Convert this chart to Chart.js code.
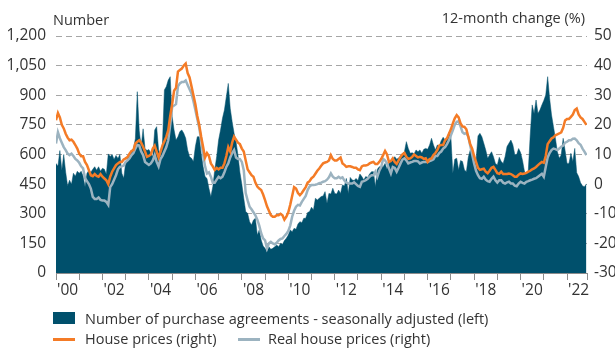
<!DOCTYPE html>
<html>
<head>
<meta charset="utf-8">
<script src="https://cdn.jsdelivr.net/npm/chart.js@4.4.1/dist/chart.umd.min.js"></script>
<style>
  body { margin: 0; background: #fff; }
  #wrap { position: relative; width: 615px; height: 349px; font-family: "Open Sans", sans-serif; color: #333; }
  #chart { position: absolute; left: 0; top: 0; }
  .txt { position: absolute; font-size: 14.5px; line-height: 14.5px; white-space: nowrap; }
  .swatch { position: absolute; }
</style>
</head>
<body>
<div id="wrap">
  <canvas id="chart" width="615" height="349"></canvas>
  <div class="txt" style="left:53px; top:12.5px;">Number</div>
  <div class="txt" style="right:30px; top:10.5px;">12-month change (%)</div>

  <div class="swatch" style="left:53px; top:312px; width:22px; height:12px; background:#00506c;"></div>
  <div class="txt" style="left:85px; top:312px;">Number of purchase agreements - seasonally adjusted (left)</div>
  <div class="swatch" style="left:53px; top:338px; width:22px; height:3px; background:#f47b26;"></div>
  <div class="txt" style="left:85px; top:332px;">House prices (right)</div>
  <div class="swatch" style="left:238px; top:338px; width:22px; height:3px; background:#9cb3c0;"></div>
  <div class="txt" style="left:268px; top:332px;">Real house prices (right)</div>
</div>
<script>
// monthly series, Jan 2000 onwards
const startYear = 2000;

const purchases = [
  555, 540, 620, 520, 600, 510, 440, 470, 450, 505,
  490, 515, 505, 515, 490, 437, 505, 520, 510, 525,
  538, 520, 538, 515, 530, 525, 500, 603, 590, 600,
  575, 595, 580, 600, 505, 480, 560, 580, 590, 620,
  630, 680, 918, 720, 640, 730, 630, 620, 625, 606,
  589, 724, 741, 623, 589, 657, 927, 944, 977, 994,
  792, 724, 673, 690, 716, 724, 707, 682, 623, 589,
  581, 564, 640, 690, 690, 606, 538, 488, 479, 429,
  386, 437, 522, 589, 673, 724, 783, 825, 893, 960,
  834, 766, 707, 665, 598, 510, 450, 378, 311, 302,
  260, 243, 268, 277, 192, 218, 167, 137, 125, 108,
  133, 120, 125, 133, 142, 133, 150, 145, 164, 176,
  192, 218, 209, 226, 221, 248, 260, 255, 277, 277,
  306, 311, 333, 319, 378, 370, 378, 387, 390, 412,
  353, 403, 400, 429, 403, 400, 420, 403, 446, 441,
  479, 403, 484, 471, 468, 479, 468, 501, 488, 471,
  488, 484, 501, 513, 513, 437, 525, 538, 538, 538,
  555, 525, 555, 567, 576, 589, 576, 582, 592, 606,
  614, 665, 631, 606, 609, 603, 623, 614, 623, 606,
  626, 631, 626, 648, 682, 648, 623, 648, 643, 670,
  687, 673, 682, 711, 690, 505, 576, 581, 522, 569,
  564, 522, 513, 586, 623, 614, 581, 572, 694, 707,
  690, 657, 623, 581, 598, 614, 589, 555, 547, 586,
  564, 555, 589, 640, 657, 673, 650, 600, 600, 630,
  610, 570, 515, 505, 520, 700, 851, 808, 876, 808,
  825, 851, 873, 901, 994, 885, 800, 741, 682, 614,
  581, 598, 682, 620, 555, 555, 606, 564, 631, 508,
  488, 457, 441, 437, 451
];

const housePrices = [
  21.6, 24, 22.5, 20, 18.8, 17, 15.7, 14.8, 15, 14.3,
  13.2, 12, 10.3, 9.4, 9.4, 7.5, 6.4, 4.7, 3, 2.7,
  3.4, 2.8, 2.5, 3.4, 2.5, 1.9, 1.3, 0, 2.5, 4.2,
  5.3, 6.4, 7, 7.5, 7.5, 8.3, 8.7, 9.2, 10.3, 11.2,
  11.5, 13.7, 14.3, 14.8, 14, 12.6, 11, 9.2, 9.5, 10,
  12, 13, 11, 9, 11, 13, 14.5, 16, 18.2, 23,
  27, 31.5, 32.5, 38, 38.5, 39, 40, 40.7, 37.5, 36,
  33, 30, 27, 23, 20, 16, 12.5, 9, 10.5, 9.5,
  7, 6, 4.8, 5.5, 5, 5.5, 5.5, 7, 9.5, 12.5,
  11, 14, 16, 15, 14, 13.5, 12, 11, 8, 5,
  4, 3, 2.5, 0.5, -0.8, -1.5, -2, -3.5, -5.4, -7.5,
  -9, -10.5, -11, -11, -10.5, -10.5, -10, -10.5, -12, -11,
  -9.5, -7, -4, -1, -1.5, -3, -3.7, -3, -2, -1,
  0.5, 1, 2, 2.5, 3.5, 4.5, 5.3, 6.2, 7, 7.3,
  7.5, 8, 9.8, 8.5, 8, 8, 8.5, 9, 7, 6.5,
  5.8, 6, 6, 5.8, 5.5, 5.5, 5, 4.7, 6, 6.3,
  6.3, 6.5, 7, 7.3, 7.5, 6.8, 6.8, 7.5, 8.5, 9.8,
  11.2, 10, 7.5, 7.8, 8.7, 7.5, 6.8, 8, 9.2, 10,
  10.5, 9.2, 8.5, 8.7, 9.2, 10, 9.5, 9, 9.2, 9,
  8.5, 8.7, 7.5, 8.5, 8.7, 9.8, 10.5, 11.5, 13, 13.2,
  13.2, 14.8, 15.5, 17, 18.5, 20.5, 22.2, 23.3, 22.5, 20.5,
  19.5, 19.3, 18.5, 16, 13.5, 12, 9.5, 7.5, 5.5, 4.8,
  5, 5.2, 4.2, 3.7, 4.5, 5.5, 5.8, 4.8, 3.7, 3.5,
  4.2, 3.4, 3.4, 3.4, 3.6, 3.4, 3, 2.5, 2.5, 3.2,
  3.6, 3.4, 3.6, 3.8, 4.2, 4.5, 5, 5.3, 5.8, 6.4,
  7, 7.5, 7.2, 9.5, 13.5, 14.5, 15.4, 15.8, 16.5, 16.8,
  17.1, 17.5, 19, 21.5, 22, 22, 22.7, 23.5, 25, 25.5,
  23.5, 22.5, 22, 21, 20
];

const realHousePrices = [
  13.7, 17.5, 15.5, 14, 12.5, 11.5, 10.3, 9.8, 10.3, 9.5,
  8.5, 8, 7.2, 6, 5.3, 2, 1, 0, -1.5, -4.3,
  -5, -5, -4.5, -5.3, -5.5, -5.5, -6, -7, -1, 0,
  1.5, 3, 5, 5.8, 6, 6.3, 7.5, 8, 8.7, 9.8,
  10.5, 12, 13.2, 13, 11, 9.8, 7.5, 7, 6.5, 7,
  8, 9.8, 7.5, 6, 8.5, 9.5, 11, 12.5, 14.8, 20,
  26, 26.5, 27, 33, 34, 34.5, 34.5, 35, 33.5, 32,
  30.6, 28, 25, 22, 19, 15, 10, 6, 3.6, 4,
  2.5, 0.5, 0.5, 1.5, 2.5, 2, 2.5, 4, 5.8, 7,
  9, 10.5, 11.5, 9, 8.5, 8.5, 7.5, 4.7, -3, -5.5,
  -7.6, -8.5, -9.5, -10.5, -12, -14, -16.6, -18.3, -19, -21.7,
  -20, -19.5, -20, -20.3, -19.8, -19, -18.5, -18.3, -17.5, -16.8,
  -15.8, -14, -11, -9, -7.6, -7, -7.2, -6, -5, -4,
  -2, -0.8, -0.3, -0.3, -0.2, 0, 0.3, 0.5, 0.8, 1,
  1.5, 2.3, 3.6, 2.5, 2, 2, 2.5, 2, 2.3, 1.2,
  0.5, 0.3, 0.2, 0.2, 0.6, 0, -0.6, -0.9, 0.8, 1,
  1.3, 1.8, 2.5, 3, 3, 4.2, 2.5, 4.5, 5.8, 8.5,
  8, 7, 5.3, 3.6, 5.8, 5.5, 4.2, 5.5, 7, 8.3,
  8.7, 8, 7, 7.3, 7.5, 7.8, 7.8, 7.7, 7, 7.3,
  7.5, 7.5, 7.5, 7.8, 8, 8.4, 9.5, 9.5, 10.5, 11,
  12, 12.5, 13.5, 14.8, 16.5, 18.2, 20, 21, 21.2, 19.5,
  17.5, 17, 17.2, 16, 13, 10, 7, 4.5, 3, 2,
  1.8, 2.5, 1.5, 1, 0.8, 1.8, 2.5, 1.3, 0.5, 1.3,
  1.3, 0.5, 0.2, 0.6, 0.8, 0.2, 0.2, -0.5, -0.7, 0.2,
  0.8, 0.4, 0.2, 0.8, 1, 1.3, 1.5, 1.8, 2, 2.5,
  3, 3.5, 2.5, 5.8, 9, 10.5, 11.5, 12, 11.8, 11.5,
  12, 12.6, 13, 14, 14.3, 14.8, 14.8, 15.3, 15.4, 14.8,
  13.8, 13.3, 12, 11, 9.8
];

const yearLabels = ["'00", "'02", "'04", "'06", "'08", "'10", "'12", "'14", "'16", "'18", "'20", "'22"];
const leftRange = [0, 1200, 150];
const rightRange = [-30, 50, 10];

const teal = '#00506c';
const orange = '#f47b26';
const grey = '#9cb3c0';
const axisGrey = '#8c8c8c';
const textColor = '#333';

const xMax = 2022.86;

function toPoints(values) {
  return values.map((v, i) => ({ x: startYear + i / 12, y: v }));
}

// tick marks on year boundaries, labels centred inside every second year
const xTicks = [];
for (let y = startYear; y <= 2022; y++) {
  xTicks.push(y);
  if ((y - startYear) % 2 === 0) xTicks.push(y + 0.5);
}
xTicks.push(xMax);

const tickFont = { family: '"Open Sans", sans-serif', size: 15.5 };

new Chart(document.getElementById('chart'), {
  type: 'line',
  data: {
    datasets: [
      {
        label: 'House prices (right)',
        data: toPoints(housePrices),
        yAxisID: 'yR',
        borderColor: orange,
        borderWidth: 2.5,
        pointRadius: 0,
        fill: false,
        order: 0
      },
      {
        label: 'Real house prices (right)',
        data: toPoints(realHousePrices),
        yAxisID: 'yR',
        borderColor: grey,
        borderWidth: 2.5,
        pointRadius: 0,
        fill: false,
        order: 1
      },
      {
        label: 'Number of purchase agreements - seasonally adjusted (left)',
        data: toPoints(purchases),
        yAxisID: 'yL',
        borderColor: teal,
        borderWidth: 0.5,
        backgroundColor: teal,
        pointRadius: 0,
        fill: 'origin',
        order: 2
      }
    ]
  },
  options: {
    responsive: false,
    animation: false,
    events: [],
    layout: { padding: { top: 36, bottom: 46, left: 0, right: 0 } },
    plugins: { legend: { display: false }, tooltip: { enabled: false } },
    scales: {
      x: {
        type: 'linear',
        min: startYear,
        max: xMax,
        afterBuildTicks: scale => { scale.ticks = xTicks.map(v => ({ value: v })); },
        afterFit: scale => { scale.height = 30; },
        ticks: {
          autoSkip: false,
          maxRotation: 0,
          padding: 1,
          color: textColor,
          font: tickFont,
          callback: v => (v % 1 === 0.5 ? yearLabels[(v - 0.5 - startYear) / 2] : '')
        },
        grid: {
          drawOnChartArea: false,
          drawTicks: true,
          tickLength: 7,
          tickColor: ctx => (ctx.tick && ctx.tick.value % 1 === 0.5 ? 'rgba(0,0,0,0)' : axisGrey)
        },
        border: { display: true, color: axisGrey, width: 1 }
      },
      yL: {
        position: 'left',
        min: leftRange[0],
        max: leftRange[1],
        afterFit: scale => { scale.width = 56; },
        ticks: {
          stepSize: leftRange[2],
          padding: 10,
          color: textColor,
          font: tickFont,
          callback: v => v.toLocaleString('en-US')
        },
        grid: { color: '#a6a6a6', lineWidth: 1, drawTicks: false },
        border: { display: false, dash: [6, 4] }
      },
      yR: {
        position: 'right',
        min: rightRange[0],
        max: rightRange[1],
        afterFit: scale => { scale.width = 28; },
        ticks: {
          stepSize: rightRange[2],
          padding: 7,
          color: textColor,
          font: tickFont
        },
        grid: { display: false, drawTicks: false },
        border: { display: false }
      }
    }
  }
});
</script>
</body>
</html>
